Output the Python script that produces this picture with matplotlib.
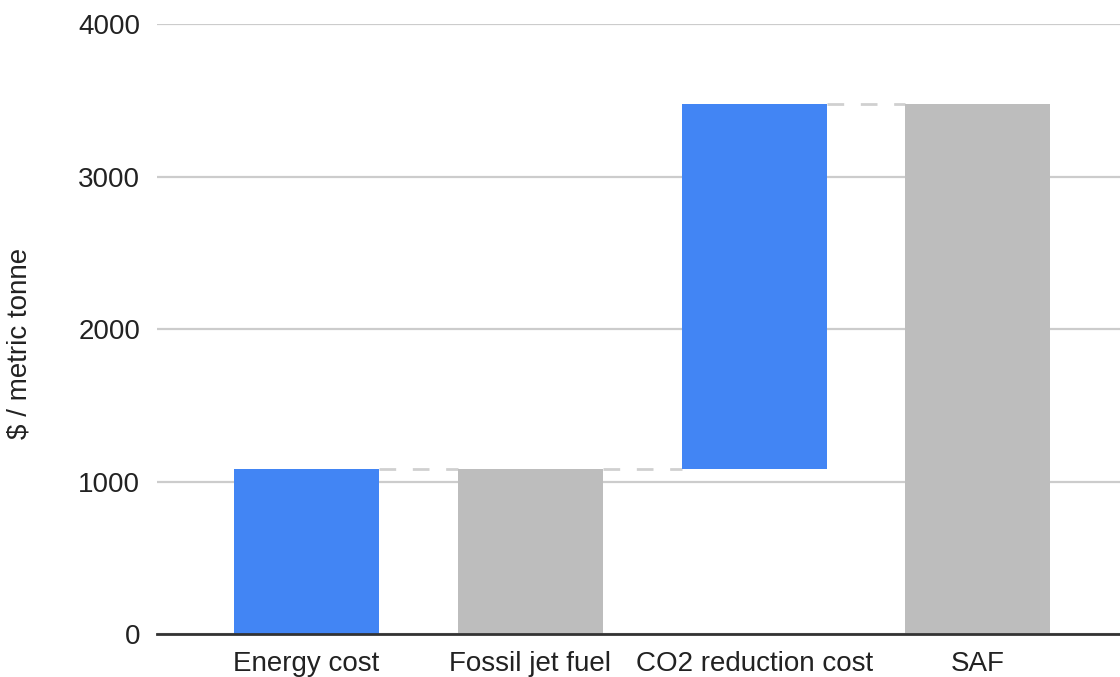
import matplotlib
matplotlib.use("Agg")
import matplotlib.pyplot as plt

# Waterfall: cost steps and running totals ($ / metric tonne)
categories = ["Energy cost", "Fossil jet fuel", "CO2 reduction cost", "SAF"]
step_values = [1080, None, 2400, None]          # None marks a subtotal bar
kinds = ["step", "total", "step", "total"]
y_ticks = [0, 1000, 2000, 3000, 4000]

STEP_COLOR = "#4285F4"
TOTAL_COLOR = "#BDBDBD"

plt.rcParams["font.family"] = ["Liberation Sans", "DejaVu Sans"]

fig = plt.figure(figsize=(11.2, 6.77), dpi=100)
ax = fig.add_axes([157 / 1120, 43 / 677, 1 - 157 / 1120, (634 - 24.3) / 677])

bar_w = 0.648
running = 0
bottoms, heights, colors = [], [], []
for kind, val in zip(kinds, step_values):
    if kind == "step":
        bottoms.append(running)
        heights.append(val)
        running += val
        colors.append(STEP_COLOR)
    else:
        bottoms.append(0)
        heights.append(running)
        colors.append(TOTAL_COLOR)

x = list(range(len(categories)))
ax.bar(x, heights, bottom=bottoms, width=bar_w, color=colors, zorder=3)

# dashed connectors between consecutive bars at the running level
levels = [b + h for b, h in zip(bottoms, heights)]
for i in range(len(x) - 1):
    ax.plot([x[i] + bar_w / 2, x[i + 1] - bar_w / 2], [levels[i], levels[i]],
            color="#D0D0D0", lw=2, dashes=(6, 6), dash_capstyle="butt", zorder=2)

ax.set_xlim(-0.668, 3.635)
ax.set_ylim(0, 4000)
ax.set_yticks(y_ticks)
ax.set_yticklabels([str(t) for t in y_ticks])
ax.set_xticks(x)
ax.set_xticklabels(categories)

ax.grid(axis="y", color="#CCCCCC", lw=1.6, zorder=0)
ax.set_axisbelow(True)
for side in ["top", "right", "left"]:
    ax.spines[side].set_visible(False)
ax.spines["bottom"].set_color("#333333")
ax.spines["bottom"].set_linewidth(2)
ax.spines["bottom"].set_zorder(4)

ax.tick_params(axis="both", length=0, labelsize=20, colors="#222222")
ax.tick_params(axis="y", pad=12)
ax.tick_params(axis="x", pad=12)

ax.set_ylabel("$ / metric tonne", fontsize=20, color="#222222")
ax.yaxis.set_label_coords(-124 / 963, 0.476)

fig.savefig("out.png", dpi=100)
